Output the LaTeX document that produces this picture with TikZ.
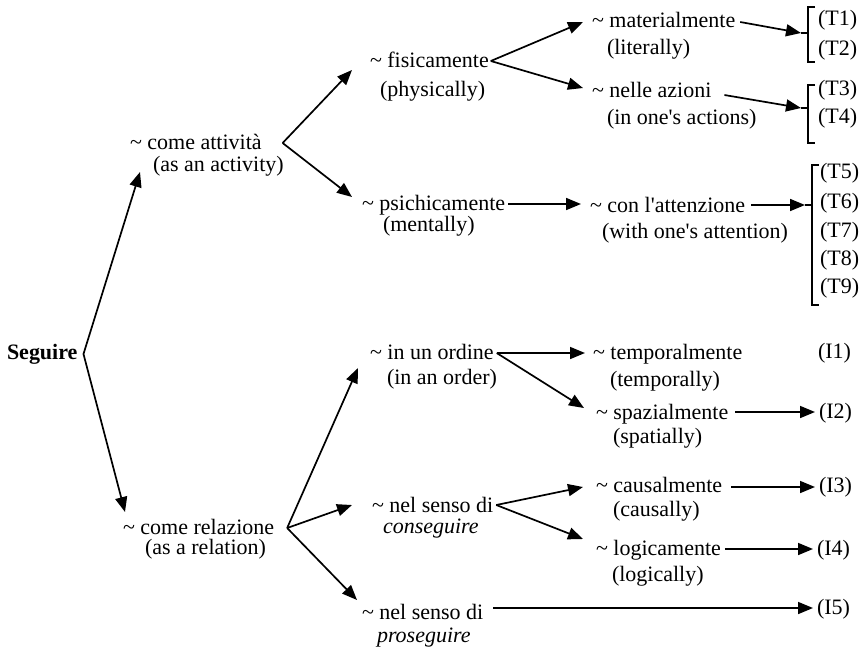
\documentclass[tikz,border=0pt]{standalone}
\usepackage{fontspec}
\setmainfont{Liberation Serif}
\usetikzlibrary{arrows.meta,calc}
\begin{document}
\begin{tikzpicture}[x=1pt,y=-1pt,
  font=\fontsize{22}{26}\selectfont,
  lbl/.style={inner sep=0pt,outer sep=0pt,anchor=base west,text height=15pt,text depth=0pt},
  sub/.style={inner sep=0pt,outer sep=0pt,anchor=base west},
  ref/.style={inner sep=0pt,outer sep=0pt,anchor=base west},
  arr/.style={line width=1.7pt,-{Triangle[length=15pt,width=12pt]}},
  brk/.style={line width=1.1pt}]
\useasboundingbox (0,0) rectangle (863,649);

% root
\node[lbl] (seg) at (7,359) {\bfseries Seguire};

% first level
\node[lbl] (act)  at (130,149) {\textasciitilde{} come attività};
\node[sub] (actb) at (153,171) {(as an activity)};
\node[lbl] (rel)  at (123,534) {\textasciitilde{} come relazione};
\node[sub] (relb) at (145,554) {(as a relation)};

% second level
\node[lbl] (fis)   at (370,67)  {\textasciitilde{} fisicamente};
\node[sub] (fisb)  at (380,96)  {(physically)};
\node[lbl] (psi)   at (362,210) {\textasciitilde{} psichicamente};
\node[sub] (psib)  at (383,231) {(mentally)};
\node[lbl] (ord)   at (370,359) {\textasciitilde{} in un ordine};
\node[sub] (ordb)  at (387,384) {(in an order)};
\node[lbl] (ncon)  at (372,512) {\textasciitilde{} nel senso di};
\node[sub] (nconb) at (383,533) {\itshape conseguire};
\node[lbl] (npro)  at (362,619) {\textasciitilde{} nel senso di};
\node[sub] (nprob) at (377,642) {\itshape proseguire};

% third level
\node[lbl] (mat)  at (592,27)  {\textasciitilde{} materialmente};
\node[sub] (matb) at (607,54)  {(literally)};
\node[lbl] (azi)  at (592,97)  {\textasciitilde{} nelle azioni};
\node[sub] (azib) at (607,124) {(in one\textquotesingle s actions)};
\node[lbl] (att)  at (590,212) {\textasciitilde{} con l\textquotesingle attenzione};
\node[sub] (attb) at (602,238) {(with one\textquotesingle s attention)};
\node[lbl] (tem)  at (593,359) {\textasciitilde{} temporalmente};
\node[sub] (temb) at (610,386) {(temporally)};
\node[lbl] (spa)  at (596,419) {\textasciitilde{} spazialmente};
\node[sub] (spab) at (613,443) {(spatially)};
\node[lbl] (cau)  at (596,492) {\textasciitilde{} causalmente};
\node[sub] (caub) at (613,516) {(causally)};
\node[lbl] (log)  at (596,555) {\textasciitilde{} logicamente};
\node[sub] (logb) at (612,581) {(logically)};

% references
\node[ref] (t1) at (818,25.5)  {(T1)};
\node[ref] (t2) at (818,55.5)  {(T2)};
\node[ref] (t3) at (818,95.5)  {(T3)};
\node[ref] (t4) at (818,123.5) {(T4)};
\node[ref] (t5) at (820,178.5) {(T5)};
\node[ref] (t6) at (820,208.5) {(T6)};
\node[ref] (t7) at (820,237.5) {(T7)};
\node[ref] (t8) at (820,265.5) {(T8)};
\node[ref] (t9) at (820,293.5) {(T9)};
\node[ref] (i1) at (818,358)   {(I1)};
\node[ref] (i2) at (819,418)   {(I2)};
\node[ref] (i3) at (819,492)   {(I3)};
\node[ref] (i4) at (817,555)   {(I4)};
\node[ref] (i5) at (817,614)   {(I5)};

% brackets grouping the T references
\draw[brk] (815,7) -- (808,7) -- (808,62) -- (815,62);
\draw[brk] (801,33) -- (808,33);
\coordinate (bk1) at (801,33);
\draw[brk] (815,85) -- (808,85) -- (808,143) -- (815,143);
\draw[brk] (801,108) -- (808,108);
\coordinate (bk2) at (801,108);
\draw[brk] (819,165) -- (812,165) -- (812,305) -- (819,305);
\draw[brk] (805,205) -- (812,205);
\coordinate (bk3) at (805,205);

% connectors: slanted ones
\draw[arr] ($(seg.east)+(6,2.5)$) -- ($(act.west)+(10,30.5)$);
\draw[arr] ($(seg.east)+(6,2.5)$) -- ($(rel.west)+(2,-14.5)$);

\draw[arr] ($(act.east)+(21,1.5)$) -- ($(fis.west)+(-18,10.5)$);
\draw[arr] ($(act.east)+(21,1.5)$) -- ($(psi.west)+(-10,-5.5)$);

\draw[arr] ($(fis.east)+(2,1.5)$) -- ($(mat.west)+(-9,2.5)$);
\draw[arr] ($(fis.east)+(2,1.5)$) -- ($(azi.west)+(-9,-1.5)$);
\draw[arr] ($(mat.east)+(5,2.5)$) -- (bk1);
\draw[arr] ($(azi.east)+(13,5.5)$) -- (bk2);

\draw[arr] ($(rel.east)+(13,1.5)$) -- ($(ord.west)+(-12,16.5)$);
\draw[arr] ($(rel.east)+(13,1.5)$) -- ($(ncon.west)+(-20,0.5)$);
\draw[arr] ($(rel.east)+(13,1.5)$) -- ($(npro.west)+(-5,-11.5)$);

\draw[arr] ($(ord.east)+(3,1.5)$) -- ($(spa.west)+(-12,-3.5)$);
\draw[arr] ($(ncon.east)+(3,0.5)$) -- ($(cau.west)+(-13,2.5)$);
\draw[arr] ($(ncon.east)+(3,0.5)$) -- ($(log.west)+(-13,-8.5)$);

% connectors: horizontal ones
\draw[arr] ($(psi.east)+(3,1.5)$) coordinate (hp) -- ($(hp -| att.west)+(-9,0)$);
\draw[arr] ($(att.east)+(6,0.5)$) -- (bk3);
\draw[arr] ($(ord.east)+(3,1.5)$) coordinate (ho) -- ($(ho -| tem.west)+(-8,0)$);
\draw[arr] ($(spa.east)+(7,0.5)$) coordinate (hs) -- ($(hs -| i2.west)+(-4,0)$);
\draw[arr] ($(cau.east)+(9,2.5)$) coordinate (hc) -- ($(hc -| i3.west)+(-4,0)$);
\draw[arr] ($(log.east)+(4,1.5)$) coordinate (hl) -- ($(hl -| i4.west)+(-4,0)$);
\draw[arr] ($(npro.east)+(10,-3.5)$) coordinate (hn) -- ($(hn -| i5.west)+(-4,0)$);
\end{tikzpicture}
\end{document}
